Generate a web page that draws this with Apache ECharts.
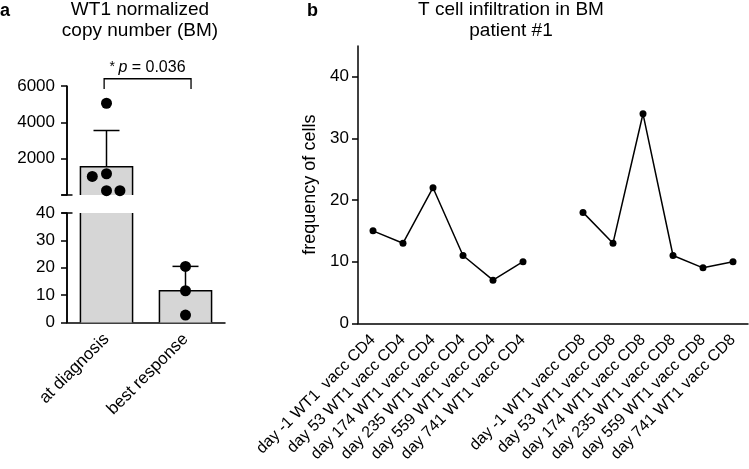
<!DOCTYPE html>
<html><head><meta charset="utf-8">
<script src="https://cdn.jsdelivr.net/npm/echarts@6/dist/echarts.min.js"></script>
<style>html,body{margin:0;padding:0;background:#fff}#c{width:749px;height:469px}</style>
</head><body><div id="c"></div>
<script>
const FONT = "'Liberation Sans', Arial, Helvetica, sans-serif";

// ---------- Panel a data ----------
const groupsA = ['at diagnosis', 'best response'];
const meansA = [1560, 11.6];
const sdA = [1990, 8.9];
const pointsDiag = [5050, 1020, 1170, 240, 240];
const jitterDiag = [0, -0.18, 0, 0, 0.17];
const pointsBest = [20.5, 11.6, 2.7];
const jitterBest = [0, 0, 0];
const topTicksA = [0, 2000, 4000, 6000];
const bottomTicksA = [0, 10, 20, 30, 40];
const sigLabel = ['*', 'p', ' = 0.036'];
const titleA = ['WT1 normalized', 'copy number (BM)'];

// ---------- Panel b data ----------
const catsB = ['day -1 WT1  vacc CD4', 'day 53 WT1 vacc CD4', 'day 174 WT1 vacc CD4', 'day 235 WT1 vacc CD4', 'day 559 WT1 vacc CD4', 'day 741 WT1 vacc CD4', '',
  'day -1 WT1 vacc CD8', 'day 53 WT1 vacc CD8', 'day 174 WT1 vacc CD8', 'day 235 WT1 vacc CD8', 'day 559 WT1 vacc CD8', 'day 741 WT1 vacc CD8'];
const cd4 = [15, 13, 22, 11, 7, 10];
const cd8 = [18, 13, 34, 11, 9, 10];
const ticksB = [0, 10, 20, 30, 40];
const titleB = ['T cell infiltration in BM', 'patient #1'];
const yNameB = 'frequency of cells';

const BREAK = bottomTicksA[bottomTicksA.length - 1];
const TOPMAX = topTicksA[topTicksA.length - 1];

const pointsA = [pointsDiag, pointsBest];
const jitterA = [jitterDiag, jitterBest];
const topScatter = [], botScatter = [];
pointsA.forEach((arr, i) => arr.forEach((v, k) => {
  (v > BREAK ? topScatter : botScatter).push([i, v, jitterA[i][k]]);
}));
const barData = meansA.map((v, i) => [i, v]);
const errTop = [], errBot = [];
meansA.forEach((m, i) => { (m > BREAK ? errTop : errBot).push([i, m, m + sdA[i]]); });

const lineData = cd4.concat(['-'], cd8);

const BLACK = '#000';
const LW = 1.5;

function barRender(axisMax, drawAbove) {
  return function (params, api) {
    const i = api.value(0), v = api.value(1);
    if (!drawAbove(v)) return null;
    const shown = Math.min(v, axisMax);
    const b = api.coord([i, 0]);
    const t = api.coord([i, shown]);
    const w = api.size([1, 0])[0] * 0.66;
    const x0 = b[0] - w / 2, x1 = b[0] + w / 2;
    const children = [
      { type: 'rect', shape: { x: x0, y: t[1], width: w, height: b[1] - t[1] }, style: { fill: '#d6d6d6' } }
    ];
    if (v <= axisMax) {
      children.push({ type: 'polyline', shape: { points: [[x0, b[1]], [x0, t[1]], [x1, t[1]], [x1, b[1]]] }, style: { stroke: BLACK, lineWidth: LW, fill: null } });
    } else {
      children.push({ type: 'line', shape: { x1: x0, y1: b[1], x2: x0, y2: t[1] }, style: { stroke: BLACK, lineWidth: LW } });
      children.push({ type: 'line', shape: { x1: x1, y1: b[1], x2: x1, y2: t[1] }, style: { stroke: BLACK, lineWidth: LW } });
    }
    return { type: 'group', children };
  };
}

function errRender(params, api) {
  const i = api.value(0), m = api.value(1), t = api.value(2);
  const p0 = api.coord([i, m]), p1 = api.coord([i, t]);
  const hw = 13;
  return { type: 'group', children: [
    { type: 'line', shape: { x1: p0[0], y1: p0[1], x2: p1[0], y2: p1[1] }, style: { stroke: BLACK, lineWidth: LW } },
    { type: 'line', shape: { x1: p1[0] - hw, y1: p1[1], x2: p1[0] + hw, y2: p1[1] }, style: { stroke: BLACK, lineWidth: LW } }
  ] };
}

function dotRender(params, api) {
  const p = api.coord([api.value(0), api.value(1)]);
  const band = api.size([1, 0])[0];
  return { type: 'circle', shape: { cx: p[0] + api.value(2) * band, cy: p[1], r: 5.5 }, style: { fill: BLACK } };
}

// axis-break cap mark plus the y-axis segment line, at the left edge of the first category band
function capRender(params, api) {
  const lo = api.coord([0, api.value(1)]);
  const hi = api.coord([0, api.value(2)]);
  const x = lo[0] - api.size([1, 0])[0] / 2;
  const cy = api.value(3) ? hi[1] : lo[1];
  return { type: 'group', children: [
    { type: 'line', shape: { x1: x - 5.5, y1: cy, x2: x + 5.5, y2: cy }, style: { stroke: BLACK, lineWidth: LW } },
    { type: 'line', shape: { x1: x, y1: lo[1], x2: x, y2: hi[1] }, style: { stroke: BLACK, lineWidth: LW } }
  ] };
}

function bracketRender(params, api) {
  const band = api.size([1, 0])[0];
  const yTop = api.value(3), yBot = api.value(4);
  const a = api.coord([0, yTop]), b = api.coord([1, yTop]);
  const c = api.coord([0, yBot]);
  const xa = a[0] + api.value(1) * band, xb = b[0] + api.value(2) * band;
  return { type: 'group', children: [
    { type: 'polyline', shape: { points: [[xa, c[1]], [xa, a[1]], [xb, a[1]], [xb, c[1]]] }, style: { stroke: BLACK, lineWidth: 1.3, fill: null } },
    { type: 'text', x: (xa + xb) / 2, y: a[1] - 3, style: {
      text: '{s|' + sigLabel[0] + '} {i|' + sigLabel[1] + '}{n|' + sigLabel[2] + '}',
      align: 'center', verticalAlign: 'bottom', fill: BLACK,
      rich: {
        s: { fontSize: 14, fontFamily: FONT, fill: BLACK, verticalAlign: 'top' },
        i: { fontSize: 16, fontFamily: FONT, fontStyle: 'italic', fill: BLACK },
        n: { fontSize: 16, fontFamily: FONT, fill: BLACK }
      } } }
  ] };
}

function yAxisA(grid, max, interval, hideZero) {
  return { type: 'value', gridIndex: grid, min: 0, max: max, interval: interval, position: 'left',
    axisLine: { show: true, onZero: false, lineStyle: { color: BLACK, width: LW } },
    axisTick: { show: true, length: 6, lineStyle: { color: BLACK, width: LW } },
    splitLine: { show: false },
    axisLabel: { fontSize: 17, margin: 12, color: BLACK, fontFamily: FONT,
      formatter: v => (hideZero && v === 0 ? '' : String(v)) } };
}

const chart = echarts.init(document.getElementById('c'), null, { renderer: 'canvas' });
chart.setOption({
  animation: false,
  backgroundColor: '#fff',
  textStyle: { fontFamily: FONT, color: BLACK },
  graphic: [
    { type: 'text', x: 0, y: 2, style: { text: 'a', font: 'bold 18px ' + FONT, fill: BLACK } },
    { type: 'text', x: 307, y: 2, style: { text: 'b', font: 'bold 18px ' + FONT, fill: BLACK } },
    { type: 'text', x: 140, y: -1, style: { text: titleA.join('\n'), font: '19px ' + FONT, lineHeight: 21, align: 'center', fill: BLACK } },
    { type: 'text', x: 511, y: -1, style: { text: titleB.join('\n'), font: '19px ' + FONT, lineHeight: 21, align: 'center', fill: BLACK } }
  ],
  grid: [
    { left: 67, top: 86, width: 158, height: 109 },
    { left: 67, top: 213, width: 158, height: 109.5 },
    { left: 358, top: 46, width: 390, height: 277.3 }
  ],
  xAxis: [
    { type: 'category', gridIndex: 0, data: groupsA, axisLine: { show: false }, axisTick: { show: false }, axisLabel: { show: false } },
    { type: 'category', gridIndex: 1, data: groupsA, axisLine: { onZero: false, lineStyle: { color: BLACK, width: LW } },
      axisTick: { alignWithLabel: true, length: 6, lineStyle: { color: BLACK, width: LW } },
      axisLabel: { rotate: 45, fontSize: 17, margin: 14, color: BLACK, interval: 0, fontFamily: FONT } },
    { type: 'category', gridIndex: 2, data: catsB, axisLine: { lineStyle: { color: BLACK, width: LW } },
      axisTick: { alignWithLabel: true, interval: 0, length: 6, lineStyle: { color: BLACK, width: LW } },
      axisLabel: { rotate: 45, fontSize: 16, margin: 14, color: BLACK, interval: 0, fontFamily: FONT } }
  ],
  yAxis: [
    yAxisA(0, TOPMAX, topTicksA[1] - topTicksA[0], true),
    yAxisA(1, BREAK, bottomTicksA[1] - bottomTicksA[0], false),
    { type: 'value', gridIndex: 2, min: 0, max: 45, interval: 10,
      name: yNameB, nameLocation: 'middle', nameGap: 33,
      nameTextStyle: { fontSize: 18, color: BLACK, fontFamily: FONT },
      axisLine: { show: true, lineStyle: { color: BLACK, width: LW } },
      axisTick: { show: true, length: 6, customValues: ticksB, lineStyle: { color: BLACK, width: LW } },
      splitLine: { show: false },
      axisLabel: { fontSize: 17, margin: 9, color: BLACK, fontFamily: FONT, customValues: ticksB,
        formatter: v => (ticksB.indexOf(v) >= 0 ? String(v) : '') } }
  ],
  series: [
    { type: 'custom', xAxisIndex: 0, yAxisIndex: 0, data: barData, encode: { x: 0, y: 1 },
      renderItem: barRender(TOPMAX, v => v > BREAK), z: 2 },
    { type: 'custom', xAxisIndex: 1, yAxisIndex: 1, data: barData, encode: { x: 0, y: 1 },
      renderItem: barRender(BREAK, v => true), z: 2 },
    { type: 'custom', xAxisIndex: 0, yAxisIndex: 0, data: errTop, encode: { x: 0, y: 1 }, renderItem: errRender, z: 3 },
    { type: 'custom', xAxisIndex: 1, yAxisIndex: 1, data: errBot, encode: { x: 0, y: 1 }, renderItem: errRender, z: 3 },
    { type: 'custom', xAxisIndex: 0, yAxisIndex: 0, data: topScatter, encode: { x: 0, y: 1 }, renderItem: dotRender, z: 4 },
    { type: 'custom', xAxisIndex: 1, yAxisIndex: 1, data: botScatter, encode: { x: 0, y: 1 }, renderItem: dotRender, z: 4 },
    { type: 'custom', xAxisIndex: 0, yAxisIndex: 0, data: [[0, 0, TOPMAX, 0]], encode: { x: 0, y: 1 }, renderItem: capRender, clip: false, z: 5 },
    { type: 'custom', xAxisIndex: 1, yAxisIndex: 1, data: [[0, 0, BREAK, 1]], encode: { x: 0, y: 1 }, renderItem: capRender, clip: false, z: 5 },
    { type: 'custom', xAxisIndex: 0, yAxisIndex: 0, data: [[0, -0.03, 0.07, 6400, 5830]], encode: { x: 0, y: 4 },
      renderItem: bracketRender, clip: false, z: 5 },
    { type: 'line', xAxisIndex: 2, yAxisIndex: 2, data: lineData, connectNulls: false,
      symbol: 'circle', symbolSize: 7, showSymbol: true,
      lineStyle: { color: BLACK, width: LW }, itemStyle: { color: BLACK, opacity: 1 }, z: 3 }
  ]
});
</script>
</body></html>
